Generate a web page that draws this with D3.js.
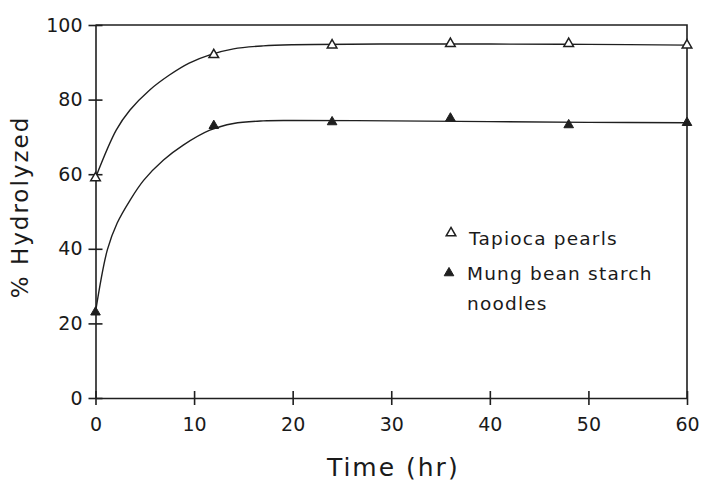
<!DOCTYPE html>
<html>
<head>
<meta charset="utf-8">
<script src="https://cdn.jsdelivr.net/npm/d3@7"></script>
<style>
  body { margin: 0; background: #fff; }
  svg { display: block; }
  text { font-family: "DejaVu Sans", sans-serif; fill: #1a1a1a; }
</style>
</head>
<body>
<svg id="chart" width="703" height="484"></svg>
<script>
// measured points
const times = [0, 12, 24, 36, 48, 60];
const tapioca = [59, 92, 94.6, 95, 95, 94.6];
const mungBean = [23, 73, 74, 75, 73.2, 73.8];

// fitted curves
const tapiocaCurveT = [0, 2.1, 3.5, 5.5, 7.5, 9.5, 11.6, 14, 17, 20, 30, 40, 50, 60];
const tapiocaCurveV = [59, 71.8, 77.2, 82.6, 86.6, 89.8, 92, 93.6, 94.4, 94.7, 94.9, 94.9, 94.8, 94.6];
const mungCurveT = [0, 1.2, 2.2, 3.5, 4.9, 6.9, 8.9, 11.6, 14, 17, 20, 30, 40, 50, 60];
const mungCurveV = [23, 39.7, 46.9, 53, 58.4, 63.8, 67.8, 71.8, 73.6, 74.3, 74.4, 74.3, 74.1, 73.9, 73.8];

const xTicks = [0, 10, 20, 30, 40, 50, 60];
const yTicks = [0, 20, 40, 60, 80, 100];

const margin = { top: 25, right: 16, bottom: 86, left: 95.5 },
  width = 703 - margin.left - margin.right,
  height = 484 - margin.top - margin.bottom;

const ink = "#1f1f1f";

let svg = d3.select("#chart")
  .append("g")
  .attr("transform", "translate(" + margin.left + "," + margin.top + ")");

let x = d3.scaleLinear().domain([0, 60]).range([0, width]);
let y = d3.scaleLinear().domain([0, 100]).range([height, 0]);

// frame: top and right sides
svg.append("path")
  .attr("d", "M0,0H" + width + "V" + height)
  .attr("fill", "none")
  .attr("stroke", ink)
  .attr("stroke-width", 1.6);

// x axis, ticks crossing the line
let xAxis = svg.append("g")
  .attr("transform", "translate(0," + height + ")")
  .call(d3.axisBottom(x).tickValues(xTicks).tickSize(7).tickSizeOuter(0).tickPadding(8));
xAxis.selectAll(".tick line").attr("y1", -7);

// y axis
let yAxis = svg.append("g")
  .call(d3.axisLeft(y).tickValues(yTicks).tickSize(7).tickSizeOuter(0).tickPadding(6));
yAxis.selectAll(".tick line").attr("x1", 7);

[xAxis, yAxis].forEach(function (a) {
  a.selectAll("line, path").attr("stroke", ink).attr("stroke-width", 1.6);
  a.selectAll("text")
    .style("font-size", "19px")
    .style("font-family", "'DejaVu Sans', sans-serif")
    .attr("fill", ink);
});
xAxis.selectAll("text").attr("dy", "0.95em");

// axis titles
svg.append("text")
  .attr("transform", "translate(" + (width / 2 + 2) + "," + (height + 78) + ")")
  .style("text-anchor", "middle")
  .style("font-size", "25px")
  .style("letter-spacing", "2px")
  .text("Time (hr)");

svg.append("text")
  .attr("transform", "rotate(-90)")
  .attr("x", -182)
  .attr("y", -68)
  .style("text-anchor", "middle")
  .style("font-size", "23px")
  .style("letter-spacing", "2px")
  .text("% Hydrolyzed");

// curves
let line = d3.line()
  .x(function (d) { return x(d[0]); })
  .y(function (d) { return y(d[1]); })
  .curve(d3.curveCatmullRom.alpha(0.5));

svg.append("path")
  .datum(d3.zip(tapiocaCurveT, tapiocaCurveV))
  .attr("d", line)
  .attr("fill", "none")
  .attr("stroke", ink)
  .attr("stroke-width", 1.4);

svg.append("path")
  .datum(d3.zip(mungCurveT, mungCurveV))
  .attr("d", line)
  .attr("fill", "none")
  .attr("stroke", ink)
  .attr("stroke-width", 1.4);

// markers
let tri = d3.symbol().type(d3.symbolTriangle).size(40);

svg.selectAll(".tap")
  .data(d3.zip(times, tapioca))
  .enter()
  .append("path")
  .attr("class", "tap")
  .attr("d", tri)
  .attr("transform", function (d) { return "translate(" + x(d[0]) + "," + y(d[1]) + ")"; })
  .attr("fill", "#fff")
  .attr("stroke", ink)
  .attr("stroke-width", 1.5);

svg.selectAll(".mung")
  .data(d3.zip(times, mungBean))
  .enter()
  .append("path")
  .attr("class", "mung")
  .attr("d", tri)
  .attr("transform", function (d) { return "translate(" + x(d[0]) + "," + y(d[1]) + ")"; })
  .attr("fill", ink)
  .attr("stroke", ink)
  .attr("stroke-width", 1);

// legend
let legend = svg.append("g")
  .attr("transform", "translate(" + (451 - margin.left) + "," + (233 - margin.top) + ")");

legend.append("path")
  .attr("d", tri)
  .attr("fill", "#fff")
  .attr("stroke", ink)
  .attr("stroke-width", 1.5);
legend.append("text")
  .attr("x", 18)
  .attr("y", 12)
  .style("font-size", "18.5px")
  .style("letter-spacing", "1.2px")
  .text("Tapioca pearls");

legend.append("path")
  .attr("d", tri)
  .attr("transform", "translate(-2,40)")
  .attr("fill", ink)
  .attr("stroke", ink);
legend.append("text")
  .attr("x", 16)
  .attr("y", 47)
  .style("font-size", "18.5px")
  .style("letter-spacing", "1.2px")
  .text("Mung bean starch");
legend.append("text")
  .attr("x", 16)
  .attr("y", 77)
  .style("font-size", "18.5px")
  .style("letter-spacing", "1.2px")
  .text("noodles");
</script>
</body>
</html>
